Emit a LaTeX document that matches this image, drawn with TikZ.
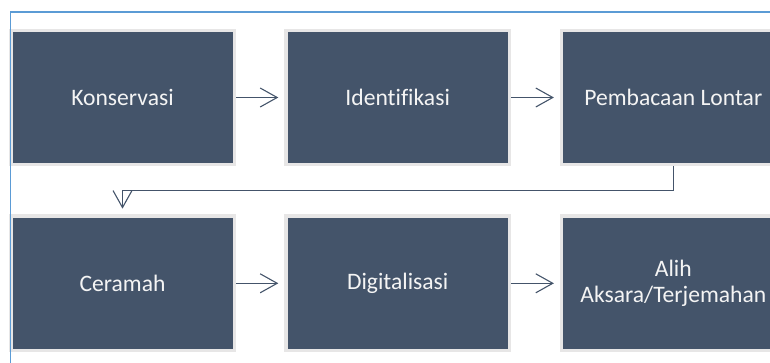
\documentclass[tikz,border=0pt]{standalone}
\usepackage{fontspec}
\setmainfont[Ligatures=NoCommon]{Carlito}
\usetikzlibrary{arrows.meta}
\definecolor{boxfill}{HTML}{44546A}
\definecolor{boxedge}{HTML}{E7E6E6}
\definecolor{frameblue}{HTML}{5B9BD5}
\definecolor{txt}{HTML}{F4F4F4}
\begin{document}
\begin{tikzpicture}[x=1pt,y=-1pt,
  stepbox/.style={draw=boxedge,fill=boxfill,line width=3.7pt,
    minimum width=223.7pt,minimum height=134.2pt,inner sep=0pt,
    text=txt,align=center,font=\fontsize{23.6}{25.5}\selectfont},
  conn/.style={draw=boxfill,line width=1.1pt,
    -{Straight Barb[length=17pt,width=19pt,line width=1.1pt]},shorten >=5.7pt}]
\useasboundingbox (0,0) rectangle (770,362);
\clip (0,0) rectangle (770,362);
\node[stepbox] (a) at (122.5,97.5) {Konservasi};
\node[stepbox] (b) at (397.7,97.5) {Identifikasi};
\node[stepbox] (c) at (673.3,97.5) {Pembacaan Lontar};
\node[stepbox] (d) at (122.5,283.3) {Ceramah};
\node[stepbox] (e) at (397.7,283.3) {Digitalisasi};
\node[stepbox] (f) at (673.3,283.3) {Alih\\Aksara/Terjemahan};
\coordinate (mid) at (0,190.7);
\draw[conn] (a) -- (b);
\draw[conn] (b) -- (c);
\draw[conn] (d) -- (e);
\draw[conn] (e) -- (f);
\draw[conn] (c.south) -- (c.south |- mid) -| (d.north);
\draw[frameblue,line width=1.3pt] (10.5,370) -- (10.5,12) -- (780,12);
\end{tikzpicture}
\end{document}
